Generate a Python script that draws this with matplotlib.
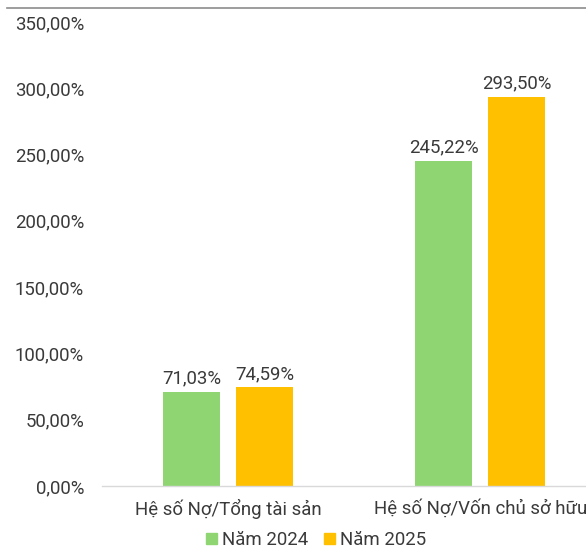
import matplotlib
matplotlib.use("Agg")
import matplotlib.pyplot as plt
from matplotlib.lines import Line2D
from matplotlib.patches import Patch

plt.rcParams['font.family'] = ['Roboto', 'DejaVu Sans']

categories = ["Hệ số Nợ/Tổng tài sản", "Hệ số Nợ/Vốn chủ sở hữu"]
series_names = ["Năm 2024", "Năm 2025"]
values_2024 = [71.03, 245.22]
values_2025 = [74.59, 293.50]
y_ticks = [0, 50, 100, 150, 200, 250, 300, 350]

green = "#8FD672"
orange = "#FFC000"
text_col = "#3A3A3A"
fs = 13.4

fig = plt.figure(figsize=(5.86, 5.49), dpi=100)
ax = fig.add_axes([102 / 586, 63 / 549, 1 - 102 / 586, (486 - 22) / 549])

def pct(v):
    return f"{v:.2f}".replace(".", ",") + "%"

x = list(range(len(categories)))
w = 0.226
off = 0.144
b1 = ax.bar([i - off for i in x], values_2024, width=w, color=green, label=series_names[0])
b2 = ax.bar([i + off for i in x], values_2025, width=w, color=orange, label=series_names[1])

for bars, vals in ((b1, values_2024), (b2, values_2025)):
    for r, v in zip(bars, vals):
        ax.annotate(pct(v), (r.get_x() + r.get_width() / 2, v), xytext=(0, 3),
                    textcoords="offset points", ha="center", va="bottom",
                    fontsize=fs, color=text_col)

ax.set_xlim(-0.5, 1.42)
ax.set_ylim(0, 350)
ax.set_yticks(y_ticks)
ax.set_yticklabels([pct(t) for t in y_ticks])
ax.set_xticks(x)
ax.set_xticklabels(categories)
ax.tick_params(axis="both", length=0, labelsize=fs, labelcolor=text_col)
ax.tick_params(axis="y", pad=13)
ax.tick_params(axis="x", pad=9)
for s in ("top", "right", "left"):
    ax.spines[s].set_visible(False)
ax.spines["bottom"].set_color("#D9D9D9")
ax.spines["bottom"].set_linewidth(1.0)

handles = [Patch(color=green), Patch(color=orange)]
fig.legend(handles, series_names, loc="center", bbox_to_anchor=(316 / 586, 1 - 540 / 549),
           ncol=2, frameon=False, fontsize=fs, handlelength=0.6, handleheight=0.6,
           handletextpad=0.3, columnspacing=0.8, labelcolor=text_col)

fig.add_artist(Line2D([7 / 586, 1], [1 - 8 / 549, 1 - 8 / 549], color="#8C8C8C", lw=1.2))

fig.savefig("out.png", dpi=100, facecolor="white")
